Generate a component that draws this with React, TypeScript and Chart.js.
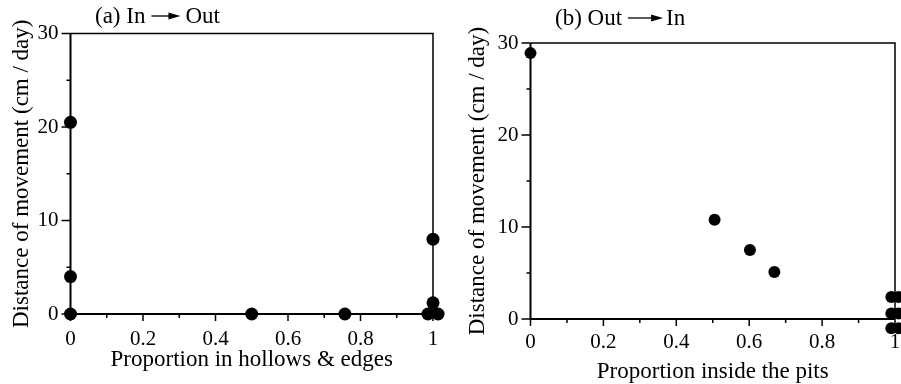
import React, { useEffect, useRef } from "react";
import { Chart, registerables } from "chart.js";

Chart.register(...registerables);

// ---- data ----
const panelATitle = ["(a) In", "Out"];
const panelBTitle = ["(b) Out", "In"];
const xAxisTitleA = "Proportion in hollows & edges";
const xAxisTitleB = "Proportion inside the pits";
const yAxisTitle = "Distance of movement (cm / day)";

const aX = [0, 0, 0, 0.5, 0.757, 1, 1, 0.986, 1.014];
const aY = [20.5, 4.0, 0, 0, 0, 8.0, 1.2, 0, 0];

const bX = [0, 0.505, 0.602, 0.669, 0.99, 1.01, 0.99, 1.01, 0.99, 1.01];
const bY = [28.9, 10.8, 7.5, 5.1, 2.4, 2.4, 0.6, 0.6, -1.0, -1.0];

const xMin = 0;
const xMax = 1;
const xStep = 0.1;
const yMin = 0;
const yMax = 30;
const yStep = 5;

const FONT = "'Liberation Serif', 'Times New Roman', serif";

const framePlugin = {
  id: "frame",
  beforeDatasetsDraw(chart: any) {
    const ctx = chart.ctx;
    const { left, right, top, bottom } = chart.chartArea;
    const xs = chart.scales.x;
    const ys = chart.scales.y;
    ctx.save();
    ctx.strokeStyle = "#000";
    ctx.lineWidth = 1.5;
    ctx.beginPath();
    ctx.moveTo(left, top);
    ctx.lineTo(right, top);
    ctx.lineTo(right, bottom);
    ctx.stroke();
    ctx.lineWidth = 2;
    ctx.beginPath();
    ctx.moveTo(left, top);
    ctx.lineTo(left, bottom);
    ctx.lineTo(right, bottom);
    ctx.stroke();
    ctx.lineWidth = 1.5;
    ys.ticks.forEach((t: any) => {
      const p = ys.getPixelForValue(t.value);
      const major = Math.round(t.value) % 10 === 0;
      ctx.beginPath();
      ctx.moveTo(left - (major ? 9 : 4), p);
      ctx.lineTo(left, p);
      ctx.stroke();
    });
    xs.ticks.forEach((t: any) => {
      const p = xs.getPixelForValue(t.value);
      const major = Math.round(t.value * 10) % 2 === 0;
      ctx.beginPath();
      ctx.moveTo(p, bottom);
      ctx.lineTo(p, bottom + (major ? 7 : 4));
      ctx.stroke();
    });
    ctx.restore();
    // let markers that sit just outside the plotting frame still be drawn
    const a = chart.chartArea;
    chart.$savedArea = a;
    chart.chartArea = {
      left: a.left - 30,
      right: a.right + 30,
      top: a.top - 30,
      bottom: a.bottom + 30,
      width: a.width + 60,
      height: a.height + 60,
    };
  },
  afterDatasetsDraw(chart: any) {
    if (chart.$savedArea) {
      chart.chartArea = chart.$savedArea;
      chart.$savedArea = null;
    }
  },
  afterDraw(chart: any, _args: any, opts: any) {
    const ctx = chart.ctx;
    const t = opts;
    if (!t || !t.parts) return;
    ctx.save();
    ctx.fillStyle = "#000";
    ctx.strokeStyle = "#000";
    ctx.font = `23px ${FONT}`;
    ctx.textBaseline = "alphabetic";
    ctx.textAlign = "left";
    const y = t.baseline;
    ctx.fillText(t.parts[0], t.x, y);
    const w0 = ctx.measureText(t.parts[0]).width;
    const a0 = t.x + w0 + t.gap1;
    const a1 = a0 + t.arrowLen;
    const ay = y - 7;
    ctx.lineWidth = 1.3;
    ctx.beginPath();
    ctx.moveTo(a0, ay);
    ctx.lineTo(a1 - 10, ay);
    ctx.stroke();
    ctx.beginPath();
    ctx.moveTo(a1 - 12, ay - 3.5);
    ctx.lineTo(a1, ay);
    ctx.lineTo(a1 - 12, ay + 3.5);
    ctx.closePath();
    ctx.fill();
    ctx.fillText(t.parts[1], a1 + t.gap2, y);
    ctx.restore();
  },
};

type PanelCfg = {
  xs: number[];
  ys: number[];
  xTitle: string;
  title: string[];
  width: number;
  padTop: number;
  padRight: number;
  yWidth: number;
  xHeight: number;
  yTitlePad: number;
  xTitlePad: number;
  xTickPad: number;
  radius: number;
  titleX: number;
  titleBaseline: number;
  gap1: number;
  gap2: number;
  arrowLen: number;
};

function Panel(props: { cfg: PanelCfg; left: number }) {
  const ref = useRef<HTMLCanvasElement | null>(null);
  const c = props.cfg;
  useEffect(() => {
    if (!ref.current) return;
    const points = c.xs.map((x, i) => ({ x, y: c.ys[i] }));
    const chart = new Chart(ref.current, {
      type: "scatter",
      data: {
        datasets: [
          {
            data: points,
            pointRadius: c.radius,
            pointHoverRadius: c.radius,
            pointBackgroundColor: "#000",
            pointBorderColor: "#000",
            pointBorderWidth: 0,
            clip: false as any,
          },
        ],
      },
      options: {
        animation: false,
        responsive: false,
        devicePixelRatio: 1,
        layout: { padding: { top: c.padTop, right: c.padRight, bottom: 0, left: 0 } },
        plugins: {
          legend: { display: false },
          tooltip: { enabled: false },
          frame: {
            parts: c.title,
            x: c.titleX,
            baseline: c.titleBaseline,
            gap1: c.gap1,
            gap2: c.gap2,
            arrowLen: c.arrowLen,
          },
        } as any,
        scales: {
          x: {
            type: "linear",
            min: xMin,
            max: xMax,
            border: { display: false },
            grid: { display: false, drawTicks: false },
            ticks: {
              stepSize: xStep,
              padding: c.xTickPad,
              color: "#000",
              font: { family: FONT, size: 21 },
              maxRotation: 0,
              autoSkip: false,
              callback: (v: any) => {
                const n = Math.round(Number(v) * 10);
                return n % 2 === 0 ? String(n / 10) : "";
              },
            },
            title: {
              display: true,
              text: c.xTitle,
              color: "#000",
              font: { family: FONT, size: 23 },
              padding: { top: 0, bottom: c.xTitlePad },
            },
            afterFit: (s: any) => {
              s.height = c.xHeight;
              s.paddingLeft = 0;
              s.paddingRight = 0;
            },
          },
          y: {
            type: "linear",
            min: yMin,
            max: yMax,
            border: { display: false },
            grid: { display: false, drawTicks: false },
            ticks: {
              stepSize: yStep,
              padding: 12,
              color: "#000",
              font: { family: FONT, size: 21 },
              autoSkip: false,
              callback: (v: any) => (Math.round(Number(v)) % 10 === 0 ? String(v) : ""),
            },
            title: {
              display: true,
              text: yAxisTitle,
              color: "#000",
              font: { family: FONT, size: 23 },
              padding: { top: c.yTitlePad, bottom: 0 },
            },
            afterFit: (s: any) => {
              s.width = c.yWidth;
              s.paddingTop = 0;
              s.paddingBottom = 0;
            },
          },
        },
      },
      plugins: [framePlugin as any],
    });
    return () => chart.destroy();
  }, []);
  return (
    <canvas
      ref={ref}
      width={c.width}
      height={384}
      style={{ position: "absolute", left: props.left, top: 0, width: c.width, height: 384 }}
    />
  );
}

const cfgA: PanelCfg = {
  xs: aX,
  ys: aY,
  xTitle: xAxisTitleA,
  title: panelATitle,
  width: 450,
  padTop: 33.5,
  padRight: 17,
  yWidth: 70.5,
  xHeight: 70,
  yTitlePad: 8,
  xTitlePad: 10,
  xTickPad: 13,
  radius: 6.5,
  titleX: 95,
  titleBaseline: 23,
  gap1: 6,
  gap2: 5,
  arrowLen: 29,
};

const cfgB: PanelCfg = {
  xs: bX,
  ys: bY,
  xTitle: xAxisTitleB,
  title: panelBTitle,
  width: 451,
  padTop: 43,
  padRight: 6,
  yWidth: 80.5,
  xHeight: 65,
  yTitlePad: 14,
  xTitlePad: -2,
  xTickPad: 11,
  radius: 6,
  titleX: 105,
  titleBaseline: 25,
  gap1: 6,
  gap2: 3,
  arrowLen: 35,
};

export default function App() {
  return (
    <div
      style={{
        position: "absolute",
        left: 0,
        top: 0,
        width: 901,
        height: 384,
        overflow: "hidden",
        background: "#fff",
      }}
    >
      <Panel cfg={cfgA} left={0} />
      <Panel cfg={cfgB} left={450} />
    </div>
  );
}
